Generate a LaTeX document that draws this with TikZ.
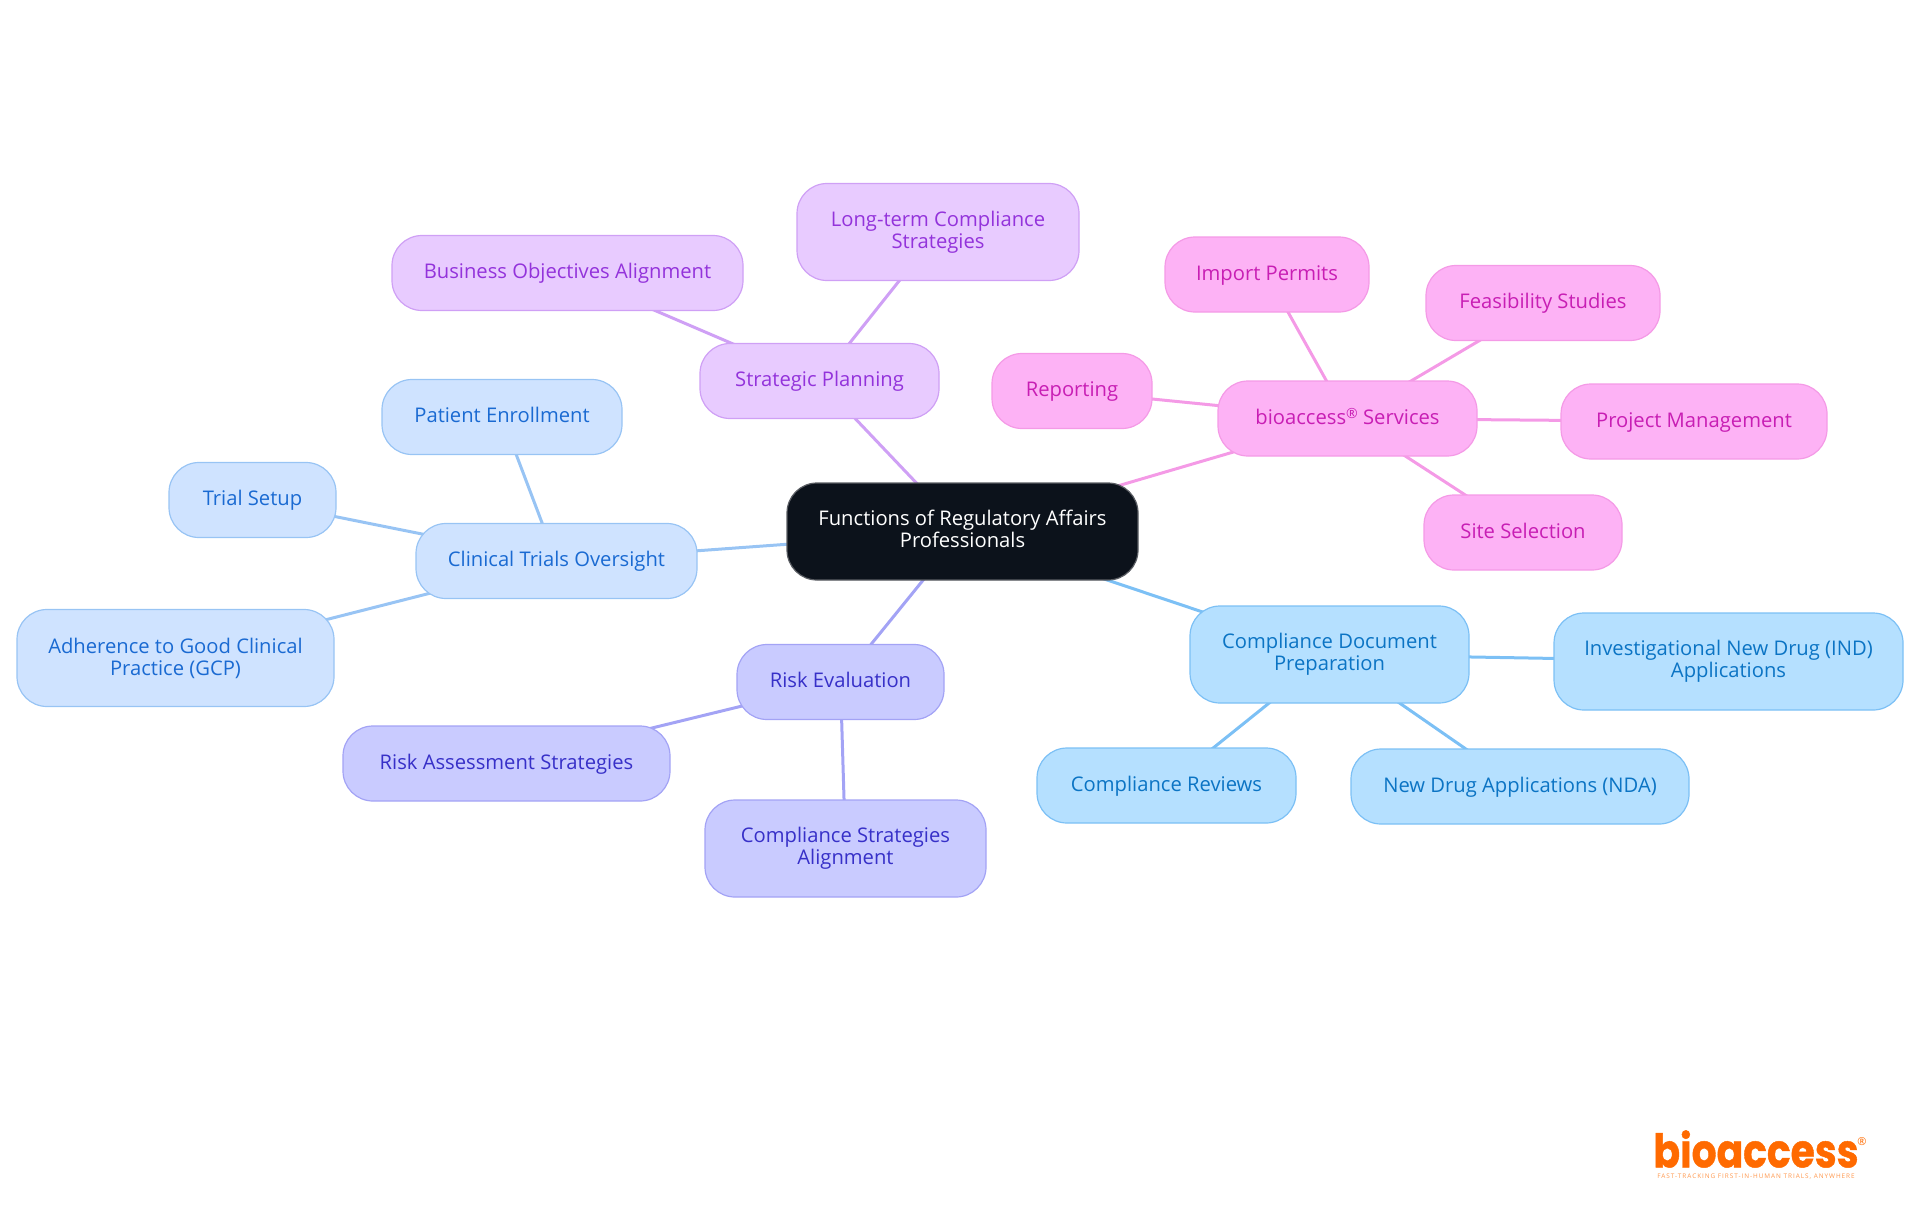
\documentclass[tikz,border=0pt]{standalone}
\usepackage{fontspec}
\setmainfont{Open Sans}
\newfontfamily\logofont[BoldFeatures={FakeBold=1}]{Poppins}
\usetikzlibrary{backgrounds}
\definecolor{rootfill}{HTML}{0C121B}
\definecolor{rootline}{HTML}{5A5D63}
\definecolor{pinkfill}{HTML}{FDB2F5}
\definecolor{pinkline}{HTML}{F49AE6}
\definecolor{pinktext}{HTML}{C81EB4}
\definecolor{purplefill}{HTML}{E8CBFF}
\definecolor{purpleline}{HTML}{CFA0F5}
\definecolor{purpletext}{HTML}{9333DB}
\definecolor{bluefill}{HTML}{CFE3FF}
\definecolor{blueline}{HTML}{98C4F4}
\definecolor{bluetext}{HTML}{1A6AD2}
\definecolor{indigofill}{HTML}{C9CBFF}
\definecolor{indigoline}{HTML}{A3A3F5}
\definecolor{indigotext}{HTML}{3730C8}
\definecolor{skyfill}{HTML}{B5E0FF}
\definecolor{skyline}{HTML}{7CC0F5}
\definecolor{skytext}{HTML}{0B74C4}
\definecolor{logoorange}{HTML}{FF6A00}
\tikzset{
  box/.style={rectangle, rounded corners=15pt, draw, line width=0.6pt, inner sep=0pt,
    minimum height=37.5pt, text height=8.9pt, text depth=3pt, align=center,
    font=\fontsize{10.1}{11}\selectfont},
  tall/.style={minimum height=48.5pt, text height=, text depth=},
  rootbox/.style={box, tall, fill=rootfill, draw=rootline, text=white},
  pinkbox/.style={box, fill=pinkfill, draw=pinkline, text=pinktext},
  purplebox/.style={box, fill=purplefill, draw=purpleline, text=purpletext},
  bluebox/.style={box, fill=bluefill, draw=blueline, text=bluetext},
  indigobox/.style={box, fill=indigofill, draw=indigoline, text=indigotext},
  skybox/.style={box, fill=skyfill, draw=skyline, text=skytext},
  link/.style={line width=1.5pt}
}
\begin{document}
\begin{tikzpicture}[x=0.5pt, y=-0.5pt]
  \useasboundingbox (0,0) rectangle (1920,1215);
  \node[rootbox, minimum width=175.5pt] (root) at (962.5,531.5) {Functions of Regulatory Affairs\\Professionals\\[-8.5pt]};
  % planning
  \node[purplebox, minimum width=119.5pt] (planning) at (819.5,381) {Strategic Planning};
  \node[purplebox, tall, minimum width=141pt] (longterm) at (938,232) {Long-term Compliance\\Strategies};
  \node[purplebox, minimum width=175.5pt] (business) at (567.5,273) {Business Objectives Alignment};
  % trials
  \node[bluebox, minimum width=140.5pt] (trials) at (556.5,561) {Clinical Trials Oversight};
  \node[bluebox, minimum width=120pt] (enrollment) at (502,417) {Patient Enrollment};
  \node[bluebox, minimum width=83.5pt] (setup) at (252.5,500) {Trial Setup};
  \node[bluebox, tall, minimum width=158.5pt] (gcp) at (175.5,658) {Adherence to Good Clinical\\Practice (GCP)};
  % risk
  \node[indigobox, minimum width=103.5pt] (risk) at (840.5,682) {Risk Evaluation};
  \node[indigobox, minimum width=163.5pt] (assessment) at (506.5,763.5) {Risk Assessment Strategies};
  \node[indigobox, tall, minimum width=140.5pt] (alignment) at (845.5,848.5) {Compliance Strategies\\Alignment};
  % documents
  \node[skybox, tall, minimum width=139.5pt] (documents) at (1329.5,654.5) {Compliance Document\\Preparation};
  \node[skybox, tall, minimum width=174.5pt] (ind) at (1728.5,661.5) {Investigational New Drug (IND)\\Applications};
  \node[skybox, minimum width=129.5pt] (reviews) at (1166.5,785.5) {Compliance Reviews};
  \node[skybox, minimum width=169pt] (nda) at (1520,786.5) {New Drug Applications (NDA)};
  % services
  \node[pinkbox, minimum width=129.5pt] (services) at (1347.5,418.5) {bioaccess\raisebox{2.8pt}{\fontsize{7}{7}\selectfont ®} Services};
  \node[pinkbox, minimum width=80pt] (reporting) at (1072,391) {Reporting};
  \node[pinkbox, minimum width=102pt] (permits) at (1267,274.5) {Import Permits};
  \node[pinkbox, minimum width=117pt] (feasibility) at (1543,303) {Feasibility Studies};
  \node[pinkbox, minimum width=133pt] (management) at (1694,421.5) {Project Management};
  \node[pinkbox, minimum width=99pt] (selection) at (1523,532.5) {Site Selection};
  % logo
  \node[text=logoorange, inner sep=0pt, font=\logofont\bfseries\fontsize{19.6}{20}\selectfont] (logo) at (1756,1149) {\scalebox{1}[1.18]{bioaccess}};
  \node[text=logoorange, inner sep=0pt, font=\fontsize{5.5}{6}\selectfont] (mark) at (1862,1142) {®};
  \node[text=logoorange!70, inner sep=0pt, font=\addfontfeature{LetterSpace=15}\fontsize{3.2}{4}\selectfont] (tagline) at (1756,1177) {FAST-TRACKING FIRST-IN-HUMAN TRIALS, ANYWHERE};
  \begin{scope}[on background layer]
    \foreach \a/\b in {root/planning, planning/longterm, planning/business}
      \draw[link, purpleline] (\a.center) -- (\b.center);
    \foreach \a/\b in {root/trials, trials/enrollment, trials/setup, trials/gcp}
      \draw[link, blueline] (\a.center) -- (\b.center);
    \foreach \a/\b in {root/risk, risk/assessment, risk/alignment}
      \draw[link, indigoline] (\a.center) -- (\b.center);
    \foreach \a/\b in {root/documents, documents/ind, documents/reviews, documents/nda}
      \draw[link, skyline] (\a.center) -- (\b.center);
    \foreach \a/\b in {root/services, services/reporting, services/permits, services/feasibility, services/management, services/selection}
      \draw[link, pinkline] (\a.center) -- (\b.center);
  \end{scope}
\end{tikzpicture}
\end{document}
